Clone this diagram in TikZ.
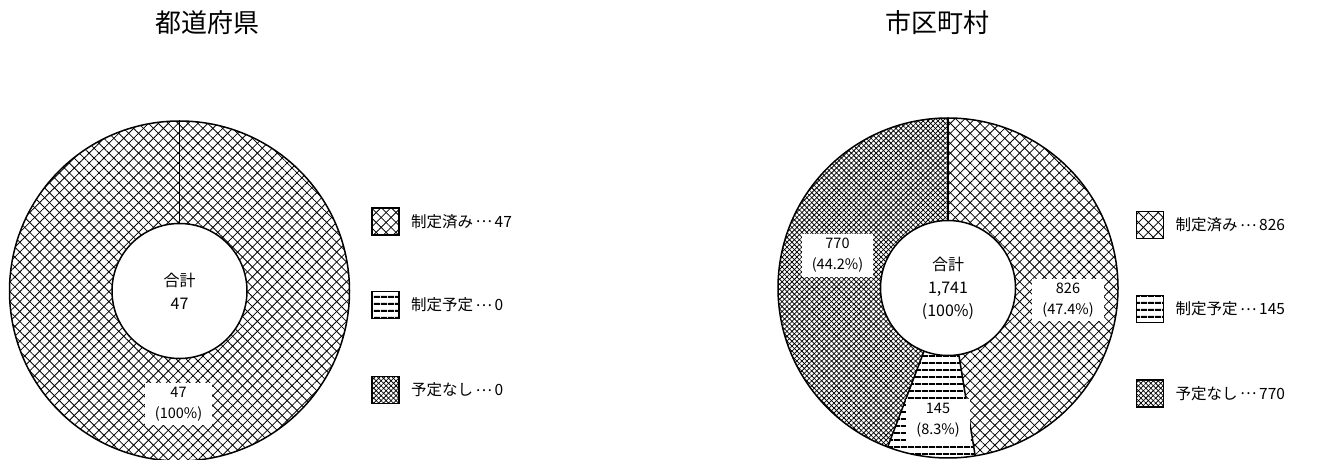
\documentclass[tikz,border=0pt]{standalone}
\usepackage{fontspec}
\newfontfamily\jpfont{Noto Sans CJK JP}
\usetikzlibrary{patterns.meta,positioning}

\newcommand{\jpdots}{\,\raisebox{0.3em}{…}\,}

\tikzset{
  done/.style={pattern={Lines[angle=45,distance=7pt,line width=0.8pt]},
               postaction={pattern={Lines[angle=-45,distance=7pt,line width=0.8pt]}}},
  planned/.style={pattern={Lines[angle=0,distance=6.5pt,line width=2pt]}},
  noplan/.style={pattern={Lines[angle=45,distance=3.5pt,line width=0.75pt]},
               postaction={pattern={Lines[angle=-45,distance=3.5pt,line width=0.75pt]}}},
  ring/.style={draw=black, line width=1.5pt},
  hole/.style={circle, draw=black, line width=1.5pt, fill=white, minimum size=135pt,
               align=center, font=\jpfont\fontsize{16}{23}\selectfont},
  lbl/.style={fill=white, align=center, inner xsep=10pt, inner ysep=4pt,
              font=\jpfont\fontsize{14.5}{21}\selectfont},
  legbox/.style={draw=black, line width=1.8pt, minimum size=27pt, inner sep=0pt},
  legtext/.style={anchor=west, inner sep=3pt, font=\jpfont\fontsize{15.5}{18}\selectfont},
  heading/.style={font=\jpfont\fontsize{26}{30}\selectfont}
}

\begin{document}
\begin{tikzpicture}[x=1pt, y=1pt]
        \useasboundingbox (0,0) rectangle (1319,460);

        % Parameters
        \def\outerR{170}    % outer radius of the rings
        \def\innerR{67.5}   % radius of the hole

        % One part of a ring, from angle #2 to angle #3
        \newcommand{\ringPart}[3]{
            \path[#1] (#2:\outerR) arc[start angle=#2, end angle=#3, radius=\outerR]
                -- (#3:\innerR) arc[start angle=#3, end angle=#2, radius=\innerR] -- cycle;
        }

        % Titles
        \node[heading] (ltitle) at (207,437) {都道府県};
        \node[heading] (rtitle) at (937.5,437) {市区町村};

        % Prefectures: 47 of 47
        \begin{scope}[shift={(179.5,169)}]
            \ringPart{done}{90}{-270}
            \draw[ring] (0,0) circle[radius=\outerR];
            \draw[ring] (90:\innerR) -- (90:\outerR);
            \node[hole] (lhole) at (0,0) {合計\\47};
            \node[lbl] (lall) at (-1,-113) {47\\(100\%)};
        \end{scope}

        % Municipalities: 826 / 145 / 770 of 1,741
        \begin{scope}[shift={(948,172)}]
            \ringPart{done}{90}{-80.80}
            \ringPart{planned}{-80.80}{-110.78}
            \ringPart{noplan}{-110.78}{-270}
            \draw[ring] (0,0) circle[radius=\outerR];
            \draw[ring] (90:\innerR) -- (90:\outerR);
            \draw[ring] (-80.80:\innerR) -- (-80.80:\outerR);
            \draw[ring] (-110.78:\innerR) -- (-110.78:\outerR);
            \node[hole] (rhole) at (0,0) {合計\\1,741\\(100\%)};
            \node[lbl] (rdone) at (120,-12) {826\\(47.4\%)};
            \node[lbl] (rnone) at (-110.5,32.5) {770\\(44.2\%)};
            \node[lbl] (rplan) at (-10,-132) {145\\(8.3\%)};
        \end{scope}

        % Legend, prefectures
        \node[legbox, done] (lkey1) at (385.5,238.5) {};
        \node[legbox, planned] (lkey2) at (385.5,155) {};
        \node[legbox, noplan] (lkey3) at (385.5,70) {};
        \node[legtext, right=8pt of lkey1] (ltext1) {制定済み\jpdots 47};
        \node[legtext, right=8pt of lkey2] (ltext2) {制定予定\jpdots 0};
        \node[legtext, right=8pt of lkey3] (ltext3) {予定なし\jpdots 0};

        % Legend, municipalities
        \node[legbox, done] (rkey1) at (1150,235) {};
        \node[legbox, planned] (rkey2) at (1150,151) {};
        \node[legbox, noplan] (rkey3) at (1150,66.5) {};
        \node[legtext, right=8pt of rkey1] (rtext1) {制定済み\jpdots 826};
        \node[legtext, right=8pt of rkey2] (rtext2) {制定予定\jpdots 145};
        \node[legtext, right=8pt of rkey3] (rtext3) {予定なし\jpdots 770};
\end{tikzpicture}
\end{document}
